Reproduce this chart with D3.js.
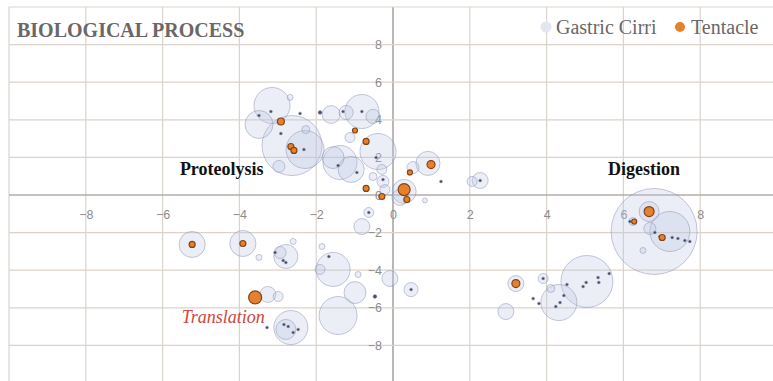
<!DOCTYPE html>
<html>
<head>
<meta charset="utf-8">
<script src="https://cdn.jsdelivr.net/npm/d3@7"></script>
<style>
  html, body { margin: 0; padding: 0; background: #fff; }
  svg { display: block; }
</style>
</head>
<body>
<svg id="chart" width="773" height="381"></svg>
<script>
// Gastric Cirri bubbles: x, y and bubble size
const cirriX = [-2.63,-2.29,-3.15,-3.49,-2.68,-2.97,-2.27,-0.81,-1.61,-1.22,-0.52,-0.39,-1.38,-1.09,-1.56,-1.12,-1.90,-0.29,-0.52,-0.26,
  0.91,0.52,0.29,2.27,2.06,0.83,-0.63,-0.81,-1.56,-1.90,-1.85,-0.08,0.47,-0.91,-0.99,-1.43,-0.47,-5.23,-3.91,-3.49,
  -2.79,-2.94,-2.60,-3.26,-2.99,-2.66,-2.79,-3.28,3.20,3.91,2.94,4.32,5.05,4.11,6.80,7.21,6.67,6.69,6.51,0.18,
  -0.21,6.25,
  -3.49,-3.18,-2.42,-2.92,-2.32,-1.30,-0.81,-0.44,-0.26,-0.94,-1.43,1.25,-0.63,-1.67,-2.86,-2.79,-3.07,-2.73,-2.60,-2.84,
  -2.47,3.65,3.80,4.53,4.45,4.95,5.03,5.34,5.36,5.63,4.35,4.24,0.47,3.91,6.17,6.82,6.95,7.27,7.42,7.60,7.73,2.27];
const cirriY = [2.63,2.42,4.76,3.75,5.19,1.52,3.48,4.44,4.28,4.39,4.18,2.31,1.73,1.36,1.99,3.06,4.39,1.36,0.98,0.72,
  1.68,1.46,0.19,0.77,0.72,-0.29,-0.93,-1.68,-3.96,-3.96,-2.74,-4.44,-5.03,-4.23,-5.19,-6.41,-5.40,-2.63,-2.58,-3.32,
  -3.27,-3.06,-2.47,-5.29,-5.40,-7.05,-7.15,-7.05,-4.71,-4.44,-6.20,-5.72,-4.60,-4.97,-1.94,-1.94,-0.88,-1.78,-2.95,-0.13,
  0.29,-1.41,
  4.23,4.44,4.34,3.27,2.42,4.44,4.44,1.99,0.82,1.20,1.57,0.72,-0.93,-3.27,-3.48,-3.59,-3.06,-6.99,-7.31,-6.89,
  -7.15,-5.51,-5.77,-4.76,-5.35,-4.87,-4.65,-4.39,-4.65,-4.18,-5.72,-5.93,-5.03,-4.44,-1.41,-1.99,-2.21,-2.26,-2.31,-2.42,-2.47,0.77];
const cirriSize = [36,14.4,13,7.8,0.36,1.44,0.64,11.6,3.2,2,2,13,11.6,6.8,4.8,1,0.16,1,0.64,1.44,
  5.8,1.44,5.8,2.56,1,0.25,1,2.56,11.6,1,0.36,2.56,2,0.36,4.8,14.4,0.16,6.8,6.8,0.36,
  5.8,1.44,0.36,2.56,1,11.6,4,0.09,2.56,1,2.56,13,27,0.64,74,16,4,1.44,0.36,2.56,
  1,0.64,
  0.09,0.09,0.09,0.09,0.09,0.09,0.09,0.09,0.09,0.09,0.09,0.09,0.09,0.09,0.09,0.09,0.09,0.09,0.09,0.09,
  0.09,0.09,0.09,0.09,0.09,0.09,0.09,0.09,0.09,0.09,0.09,0.09,0.09,0.09,0.09,0.09,0.09,0.09,0.09,0.09,0.09,0.09];

// Tentacle bubbles
const tentacleX = [-2.92,-2.66,-2.58,-0.99,-0.70,-0.70,-0.29,0.99,0.44,0.29,0.36,-5.23,-3.91,-3.59,3.20,6.67,7.01,6.28];
const tentacleY = [3.91,2.58,2.37,3.43,2.85,0.35,-0.08,1.62,1.20,0.29,-0.24,-2.63,-2.58,-5.45,-4.71,-0.88,-2.26,-1.41];
const tentacleSize = [0.49,0.36,0.36,0.25,0.36,0.36,0.36,0.64,0.25,1.44,0.36,0.36,0.36,1.69,0.64,1,0.36,0.25];

const tickValues = [-8,-6,-4,-2,0,2,4,6,8];
const gridValues = [-10,-8,-6,-4,-2,0,2,4,6,8,10];
const seriesNames = ["Gastric Cirri", "Tentacle"];
const title = "BIOLOGICAL PROCESS";
const notes = [
  { text: "Proteolysis", x: -5.55, y: 1.05, kind: "bold" },
  { text: "Digestion", x: 5.6, y: 1.05, kind: "bold" },
  { text: "Translation", x: -5.5, y: -6.82, kind: "italic" }
];

const svg = d3.select("#chart");
const x = d3.scaleLinear().domain([-10, 10]).range([9, 777]);
const y = d3.scaleLinear().domain([-10, 10]).range([383, 7]);
const r = d3.scaleSqrt().domain([0, 100]).range([0, 50]);

// grid
const grid = svg.append("g");
grid.selectAll("line.v").data(gridValues).join("line")
  .attr("x1", d => x(d)).attr("x2", d => x(d))
  .attr("y1", y(10)).attr("y2", 381)
  .attr("stroke", d => d === 0 ? "#a9a6a4" : "#dad4cf")
  .attr("stroke-width", d => d === 0 ? 1.6 : 1.2);
grid.selectAll("line.h").data(gridValues).join("line")
  .attr("y1", d => y(d)).attr("y2", d => y(d))
  .attr("x1", x(-10)).attr("x2", 773)
  .attr("stroke", d => d === 0 ? "#b3aca6" : "#dbd3ca")
  .attr("stroke-width", d => d === 0 ? 1.6 : 1.2);

// axes with labels through the origin
const xAxis = d3.axisBottom(x).tickValues(tickValues).tickSize(0).tickPadding(15);
const yAxis = d3.axisLeft(y).tickValues(tickValues).tickSize(0).tickPadding(11);
const gx = svg.append("g").attr("transform", `translate(0,${y(0)})`).call(xAxis);
const gy = svg.append("g").attr("transform", `translate(${x(0)},0)`).call(yAxis);
[gx, gy].forEach(g => {
  g.select(".domain").remove();
  g.selectAll("text").attr("font-family", "Liberation Sans, Arial, sans-serif")
    .attr("font-size", 12.5).attr("fill", "#8c8c8c");
});

// bubbles
const cirri = cirriX.map((v, i) => ({ x: v, y: cirriY[i], s: cirriSize[i] }))
  .sort((a, b) => b.s - a.s);
const tentacle = tentacleX.map((v, i) => ({ x: v, y: tentacleY[i], s: tentacleSize[i] }))
  .sort((a, b) => b.s - a.s);

svg.append("g").selectAll("circle").data(cirri).join("circle")
  .attr("cx", d => x(d.x)).attr("cy", d => y(d.y)).attr("r", d => r(d.s))
  .attr("fill", d => r(d.s) < 2.2 ? "rgba(45,45,70,0.85)" : "rgba(190,198,228,0.3)")
  .attr("stroke", d => r(d.s) < 2.2 ? "rgba(170,175,200,0.5)" : "rgba(140,145,178,0.5)")
  .attr("stroke-width", 1);

svg.append("g").selectAll("circle").data(tentacle).join("circle")
  .attr("cx", d => x(d.x)).attr("cy", d => y(d.y)).attr("r", d => r(d.s))
  .attr("fill", "#e5802c")
  .attr("stroke", "#874312")
  .attr("stroke-width", 1.2);

// title
svg.append("text").attr("x", 17).attr("y", 37).text(title)
  .attr("font-family", "Liberation Serif, Times New Roman, serif")
  .attr("font-weight", "bold").attr("font-size", 20).attr("fill", "#6b6766");

// legend
const legend = svg.append("g");
legend.append("circle").attr("cx", 546).attr("cy", 27).attr("r", 5.5).attr("fill", "#e3e6ef");
legend.append("text").attr("x", 556).attr("y", 34).text(seriesNames[0]);
legend.append("circle").attr("cx", 680).attr("cy", 27).attr("r", 5).attr("fill", "#e5802c");
legend.append("text").attr("x", 691).attr("y", 34).text(seriesNames[1]);
legend.selectAll("text").attr("font-family", "Liberation Serif, Times New Roman, serif")
  .attr("font-size", 20).attr("fill", "#6b6766");

// annotations
svg.append("g").selectAll("text").data(notes).join("text")
  .attr("x", d => x(d.x)).attr("y", d => y(d.y)).text(d => d.text)
  .attr("font-family", "Liberation Serif, Times New Roman, serif")
  .attr("font-size", 18)
  .attr("font-weight", d => d.kind === "bold" ? "bold" : "normal")
  .attr("font-style", d => d.kind === "italic" ? "italic" : "normal")
  .attr("fill", d => d.kind === "italic" ? "#d0453a" : "#111");
</script>
</body>
</html>
